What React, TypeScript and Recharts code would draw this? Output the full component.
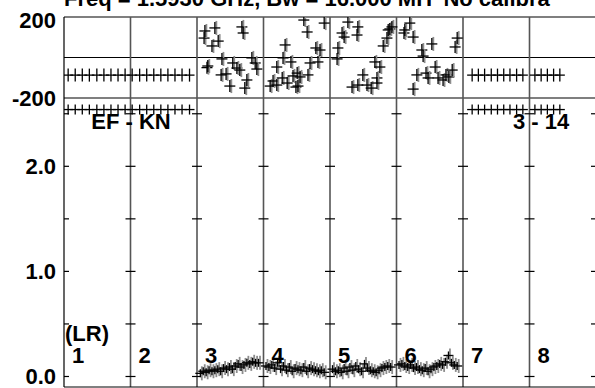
import { ScatterChart, Scatter, XAxis, YAxis, CartesianGrid, ReferenceLine } from "recharts";

const channels = ["1", "2", "3", "4", "5", "6", "7", "8"];
const channelEdges = [0, 16, 32, 48, 64, 80, 96, 112, 128];
const xTicks = channelEdges.slice(0, 8).flatMap((e) => [e, e + 5, e + 10, e + 15]);
const phaseTicks = [-200, 0, 200];
const ampTicks = [0, 0.5, 1, 1.5, 2, 2.5];
const ampLabelTicks = [0, 1, 2];

// channels 1, 2, 7, 8: flat rows
const flatX = [
  1.0, 2.7, 4.4, 6.1, 7.9, 9.6, 11.3, 13.0, 14.7,
  16.4, 18.2, 19.9, 21.6, 23.3, 25.0, 26.7, 28.4, 30.2,
  98.2, 99.7, 101.2, 102.8, 104.3, 105.8, 107.3, 108.9, 110.4,
  113.3, 114.8, 116.3, 117.8, 119.3,
];
const flatPhase = [
  -87, -87, -87, -87, -87, -87, -87, -87, -87,
  -87, -87, -87, -87, -87, -87, -87, -87, -87,
  -87, -87, -87, -87, -87, -87, -87, -87, -87,
  -87, -87, -87, -87, -87,
];
const flatAmp = [
  2.54, 2.54, 2.54, 2.54, 2.54, 2.54, 2.54, 2.54, 2.54,
  2.54, 2.54, 2.54, 2.54, 2.54, 2.54, 2.54, 2.54, 2.54,
  2.54, 2.54, 2.54, 2.54, 2.54, 2.54, 2.54, 2.54, 2.54,
  2.54, 2.54, 2.54, 2.54, 2.54,
];

// channels 3-6: phase scatter
const phaseX = [
  33.7, 33.9, 34.4, 34.6, 35.6, 36.3, 37.1, 37.8, 38.0, 39.0, 39.9, 40.6, 41.6, 42.3, 42.8, 43.1, 43.5, 44.0, 45.2, 46.0, 46.4,
  49.6, 50.3, 51.2, 51.2, 52.5, 52.7, 53.2, 53.7, 54.6, 55.1, 55.8, 56.1, 56.3, 56.8, 57.7, 58.5, 58.7, 59.2, 60.6, 61.1, 61.6, 62.6,
  65.7, 65.9, 66.9, 67.4, 68.3, 69.3, 70.5, 70.7, 70.7, 71.9, 72.9, 73.9, 74.8, 75.3, 75.3, 76.0, 76.8, 77.7, 78.0, 78.4, 78.9,
  81.8, 82.0, 83.2, 84.0, 84.0, 84.9, 86.1, 86.4, 87.1, 87.6, 88.5, 89.3, 90.0, 91.2, 91.9, 92.6, 93.4, 94.1, 94.6,
];
const phaseVal = [
  96, 131, -50, -42, 57, 146, 81, -86, -7, -81, -141, -27, -52, -62, 151, 121, -151, -111, -2, -27, -57,
  -141, -116, -47, -136, -101, -2, 62, -126, -22, -91, -146, -77, -141, -96, 185, 126, -86, -27, 47, -22, 37, 170,
  -7, 47, 121, 101, 175, -146, 111, 151, -136, -86, -136, -151, -22, -101, -126, -47, 57, 96, 136, 141, 151,
  121, 136, 170, 101, -156, -86, 37, 7, -77, -101, 67, -47, -101, -111, -86, -96, -62, 52, 96,
];

// channels 3-6: amplitude scatter
const ampX = [
  32.8, 33.5, 34.2, 34.9, 35.6, 36.3, 37.0, 37.7, 38.4, 39.1, 39.8, 40.5, 41.2, 41.9, 42.6, 43.3, 44.0, 44.7, 45.4, 46.1, 46.8,
  48.6, 49.3, 50.0, 50.7, 51.4, 52.1, 52.8, 53.5, 54.2, 54.9, 55.6, 56.3, 57.0, 57.7, 58.4, 59.1, 59.8, 60.5, 61.2, 61.9, 62.6,
  64.6, 65.3, 66.0, 66.7, 67.4, 68.1, 68.8, 69.5, 70.2, 70.9, 71.6, 72.3, 73.0, 73.7, 74.4, 75.1, 75.8, 76.5, 77.2, 77.9, 78.6,
  80.6, 81.3, 82.0, 82.7, 83.4, 84.1, 84.8, 85.5, 86.2, 86.9, 87.6, 88.3, 89.0, 89.7, 90.4, 91.1, 91.8, 92.5, 93.2, 93.9, 94.6,
];
const ampVal = [
  0.03, 0.05, 0.04, 0.06, 0.05, 0.06, 0.07, 0.05, 0.08, 0.07, 0.09, 0.07, 0.10, 0.12, 0.09, 0.11, 0.13, 0.12, 0.14, 0.13, 0.13,
  0.10, 0.09, 0.11, 0.08, 0.13, 0.07, 0.10, 0.06, 0.09, 0.05, 0.08, 0.07, 0.06, 0.09, 0.05, 0.08, 0.07, 0.06, 0.05, 0.06, 0.04,
  0.07, 0.05, 0.06, 0.04, 0.08, 0.05, 0.09, 0.06, 0.10, 0.07, 0.05, 0.12, 0.08, 0.06, 0.05, 0.04, 0.06, 0.08, 0.09, 0.10, 0.09,
  0.11, 0.12, 0.10, 0.09, 0.11, 0.08, 0.09, 0.07, 0.06, 0.08, 0.05, 0.07, 0.09, 0.10, 0.12, 0.11, 0.14, 0.20, 0.13, 0.11, 0.10,
];

const flatPhaseData = flatX.map((x, i) => ({ x, y: flatPhase[i] }));
const flatAmpData = flatX.map((x, i) => ({ x, y: flatAmp[i] }));
const phaseData = phaseX.map((x, i) => ({ x, y: phaseVal[i] }));
const ampData = ampX.map((x, i) => ({ x, y: ampVal[i] }));
const ampTickMarks = channelEdges.flatMap((x) => ampTicks.map((y) => ({ x, y })));

const FONT = "'Liberation Sans', Arial, sans-serif";
const labelStyle = { fontSize: 22, fontWeight: 700, fill: "#000", fontFamily: FONT };

const makeCross = (hw: number, hh: number, grayH: number) => (props: any) => {
  const { cx, cy } = props;
  return (
    <g>
      {grayH > 0 && (
        <line x1={cx + 1.5} x2={cx + 1.5} y1={cy - grayH} y2={cy + grayH} stroke="#8c8c8c" strokeWidth={1.8} />
      )}
      <line x1={cx - hw} x2={cx + hw} y1={cy} y2={cy} stroke="#000" strokeWidth={1.3} />
      <line x1={cx} x2={cx} y1={cy - hh} y2={cy + hh} stroke="#000" strokeWidth={1.3} />
    </g>
  );
};

const Nothing = () => <g />;

const TickMark = (props: any) => {
  const { cx, cy, payload } = props;
  const left = payload.x === 0 ? cx - 1 : cx - 5;
  return <line x1={left} x2={cx + 5} y1={cy} y2={cy} stroke="#000" strokeWidth={1.2} />;
};

const PhaseTick = (props: any) => {
  const { x, y, payload } = props;
  if (payload.value === 0) return null;
  return (
    <text x={x} y={y + (payload.value === 200 ? 3 : 0)} dy={8} textAnchor="end" style={labelStyle}>
      {payload.value}
    </text>
  );
};

export default function App() {
  return (
    <div style={{ position: "absolute", left: 0, top: 0, width: 595, height: 388, overflow: "hidden", background: "#fff" }}>
      <div style={{ position: "absolute", left: 0, top: 0 }}>
        <ScatterChart width={600} height={130} margin={{ top: 17, right: 4, bottom: 32, left: 0 }}>
          <CartesianGrid xAxisId="b" horizontal vertical={false} stroke="#000" strokeWidth={1.1} />
          <XAxis xAxisId="t" orientation="top" type="number" dataKey="x" domain={[0, 128]} ticks={xTicks} allowDataOverflow mirror tick={false} tickSize={4} axisLine={false} tickLine={{ stroke: "#000" }} />
          <XAxis xAxisId="b" orientation="bottom" type="number" dataKey="x" domain={[0, 128]} ticks={xTicks} allowDataOverflow mirror tick={false} tickSize={4} axisLine={false} tickLine={{ stroke: "#000" }} />
          <YAxis type="number" dataKey="y" domain={[-200, 200]} ticks={phaseTicks} allowDataOverflow width={64} tickLine={false} axisLine={false} tick={<PhaseTick />} />
          {channelEdges.map((e) => (
            <ReferenceLine key={e} xAxisId="b" x={e} stroke={e === 0 ? "#000" : "#555"} strokeWidth={e === 0 ? 1.2 : 1.6} />
          ))}
          <Scatter xAxisId="t" data={phaseData} shape={<Nothing />} isAnimationActive={false} />
          <Scatter xAxisId="b" data={flatPhaseData} shape={makeCross(5, 6.5, 0)} isAnimationActive={false} />
          <Scatter xAxisId="b" data={phaseData} shape={makeCross(5.5, 6, 7)} isAnimationActive={false} />
        </ScatterChart>
      </div>
      <div style={{ position: "absolute", left: 0, top: 0 }}>
        <ScatterChart width={600} height={400} margin={{ top: 98, right: 4, bottom: 13, left: 0 }}>
          <XAxis xAxisId="t" orientation="top" type="number" dataKey="x" domain={[0, 128]} ticks={xTicks} allowDataOverflow mirror tick={false} tickSize={4} axisLine={false} tickLine={{ stroke: "#000" }} />
          <XAxis xAxisId="b" orientation="bottom" type="number" dataKey="x" domain={[0, 128]} ticks={xTicks} allowDataOverflow mirror tick={false} tickSize={5} axisLine={{ stroke: "#000" }} tickLine={{ stroke: "#000" }} />
          <YAxis type="number" dataKey="y" domain={[-0.1, 2.65]} ticks={ampLabelTicks} allowDataOverflow width={64} tickLine={false} axisLine={false} tickFormatter={(v: number) => v.toFixed(1)} tick={labelStyle} />
          {channelEdges.map((e) => (
            <ReferenceLine key={e} xAxisId="b" x={e} stroke={e === 0 ? "#000" : "#555"} strokeWidth={e === 0 ? 1.2 : 1.6} />
          ))}
          <Scatter xAxisId="t" data={ampData} shape={<Nothing />} isAnimationActive={false} />
          <Scatter xAxisId="b" data={ampTickMarks} shape={<TickMark />} isAnimationActive={false} />
          <Scatter xAxisId="b" data={flatAmpData} shape={makeCross(5, 5, 0)} isAnimationActive={false} />
          <Scatter xAxisId="b" data={ampData} shape={makeCross(5, 4, 7)} isAnimationActive={false} />
        </ScatterChart>
      </div>
      <svg width={595} height={388} style={{ position: "absolute", left: 0, top: 0, pointerEvents: "none" }}>
        <g style={labelStyle}>
          <text x={64} y={6}>Freq = 1.5930 GHz, Bw = 16.000 MH'   No calibra</text>
          <text x={131} y={129} textAnchor="middle">EF - KN</text>
          <text x={513} y={129}>3 - 14</text>
          <text x={65} y={341}>(LR)</text>
          {channels.map((c, i) => (
            <text key={c} x={64 + i * 66.5 + 8} y={363}>{c}</text>
          ))}
        </g>
      </svg>
    </div>
  );
}
